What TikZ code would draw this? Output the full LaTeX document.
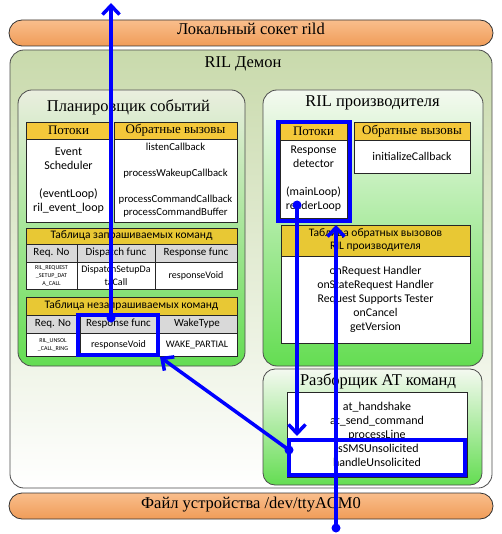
\documentclass[tikz,border=0pt]{standalone}
\usepackage{fontspec}
\setmainfont{Liberation Serif}
\newfontfamily\calfont{Carlito}
\usepackage{tikz}
\usetikzlibrary{arrows.meta}

\definecolor{barTop}{HTML}{F9BE8C}
\definecolor{barBot}{HTML}{F09C58}
\definecolor{demTop}{HTML}{C9DAAC}
\definecolor{panTop}{HTML}{EAEEDF}
\definecolor{panTopB}{HTML}{F4F9F0}
\definecolor{panBot}{HTML}{64DD52}
\definecolor{gold}{HTML}{F4C83A}
\definecolor{goldB}{HTML}{E8C834}
\definecolor{colgray}{HTML}{D9D9D9}

\tikzset{
  bar/.style={draw=black!80, line width=0.8pt, rounded corners=13pt, top color=barTop, bottom color=barBot,
    minimum width=484pt, minimum height=26pt, inner sep=0pt, text height=11pt, text depth=7pt,
    font=\fontsize{16.5}{18}\selectfont},
  panel/.style={draw=black!70, line width=0.8pt, rounded corners=14pt, inner sep=0pt},
  title/.style={anchor=base, inner sep=0pt, font=\fontsize{16.5}{18}\selectfont},
  cell/.style={draw=black!85, line width=0.7pt, fill=white, inner sep=0pt, align=center},
  hdr/.style={cell, fill=gold, font=\fontsize{13}{15}\selectfont},
  tbl/.style={cell, fill=goldB, font=\calfont\fontsize{11.5}{13}\selectfont},
  colh/.style={cell, fill=colgray, font=\calfont\fontsize{11}{13}\selectfont},
  tiny/.style={font=\calfont\fontsize{6}{8}\selectfont},
  sel/.style={draw=blue, line width=4pt, inner sep=0pt},
  dot/.style={circle, fill=blue, inner sep=0pt, minimum size=9pt},
  link/.style={draw=blue, line width=3.5pt, -{Straight Barb[length=9pt, width=17pt]}}
}

\begin{document}
\begin{tikzpicture}[x=1pt, y=-1pt]
  \useasboundingbox (0, 0) rectangle (501, 534);
  \node (sock) at (251, 33) [bar] {Локальный сокет rild};
  \node (dem) at (251, 269) [panel, top color=demTop, bottom color=white, minimum width=482, minimum height=438] {};
  \node (demT) at (243, 68) [title] {RIL Демон};
  \node (dev) at (251, 506) [bar] {Файл устройства /dev/ttyACM0};

  \node (sched) at (131.5, 228) [panel, top color=panTop, bottom color=panBot, minimum width=227, minimum height=276] {};
  \node (schedT) at (128.5, 112) [title] {Планировщик событий};
  \node (thrH) at (68.5, 130.5) [hdr, minimum width=85, minimum height=17] {Потоки};
  \node (thrB) at (68.5, 180.5) [cell, minimum width=85, minimum height=83, font=\calfont\fontsize{12}{14}\selectfont] {Event\\Scheduler\\[14pt](eventLoop)\\ril\_event\_loop};
  \node (cbH) at (175.5, 130.5) [hdr, minimum width=123, minimum height=17] {Обратные вызовы};
  \node (cbB) at (175.5, 180.5) [cell, minimum width=123, minimum height=83, font=\calfont\fontsize{10.7}{13}\selectfont] {listenCallback\\[13pt]processWakeupCallback\\[13pt]processCommandCallback\\processCommandBuffer};

  \node (rq) at (131.5, 236) [tbl, minimum width=211, minimum height=16] {Таблица запрашиваемых команд};
  \node (rqA) at (51.5, 253) [colh, minimum width=51, minimum height=18] {Req. No};
  \node (rqB) at (116, 253) [colh, minimum width=78, minimum height=18] {Dispatch func};
  \node (rqC) at (196, 253) [colh, minimum width=82, minimum height=18] {Response func};
  \node (rqA1) at (51.5, 275.5) [cell, tiny, minimum width=51, minimum height=27] {RIL\_REQUEST\\\_SETUP\_DAT\\A\_CALL};
  \node (rqB1) at (116, 275.5) [cell, minimum width=78, minimum height=27, font=\calfont\fontsize{10}{13}\selectfont] {DispatchSetupDa\\taCall};
  \node (rqC1) at (196, 275.5) [cell, minimum width=82, minimum height=27, font=\calfont\fontsize{10}{13}\selectfont] {responseVoid};

  \node (un) at (131.5, 306) [tbl, minimum width=211, minimum height=18] {Таблица незапрашиваемых команд};
  \node (unA) at (53, 324) [colh, minimum width=54, minimum height=18] {Req. No};
  \node (unB) at (118.5, 324) [colh, minimum width=77, minimum height=18] {Response func};
  \node (unC) at (197, 324) [colh, minimum width=80, minimum height=18] {WakeType};
  \node (unA1) at (53, 344.5) [cell, tiny, minimum width=54, minimum height=23] {RIL\_UNSOL\\\_CALL\_RING};
  \node (unB1) at (118.5, 344.5) [cell, minimum width=77, minimum height=23, font=\calfont\fontsize{10}{13}\selectfont] {responseVoid};
  \node (unC1) at (197, 344.5) [cell, minimum width=80, minimum height=23, font=\calfont\fontsize{10}{13}\selectfont] {WAKE\_PARTIAL};

  \node (prod) at (373, 228) [panel, top color=panTopB, bottom color=panBot, minimum width=220, minimum height=276] {};
  \node (prodT) at (372.5, 107) [title] {RIL производителя};
  \node (thrH2) at (313.5, 131) [hdr, minimum width=67, minimum height=18] {Потоки};
  \node (thrB2) at (313.5, 179) [cell, minimum width=67, minimum height=78, font=\calfont\fontsize{11.8}{14}\selectfont] {Response\\detector\\[14pt](mainLoop)\\readerLoop};
  \node (cbH2) at (412, 131) [hdr, minimum width=116, minimum height=18] {Обратные вызовы};
  \node (cbB2) at (412, 156.5) [cell, minimum width=116, minimum height=33, font=\calfont\fontsize{11.8}{14}\selectfont] {initializeCallback};
  \node (vt) at (375.5, 240.5) [tbl, minimum width=189, minimum height=31] {Таблица обратных вызовов\\RIL производителя};
  \node (vtB) at (375.5, 299.5) [cell, minimum width=189, minimum height=87, font=\calfont\fontsize{11.8}{14}\selectfont] {onRequest Handler\\onStateRequest Handler\\Request Supports Tester\\onCancel\\getVersion};

  \node (pars) at (372.5, 427) [panel, rounded corners=12pt, top color=panTopB, bottom color=panBot, minimum width=219, minimum height=116] {};
  \node (parsT) at (378, 385) [title] {Разборщик AT команд};
  \node (atB) at (377, 434.5) [cell, minimum width=180, minimum height=85, font=\calfont\fontsize{12}{14}\selectfont] {at\_handshake\\at\_send\_command\\processLine\\isSMSUnsolicited\\handleUnsolicited};

  \node (sel1) at (118, 335) [sel, minimum width=80, minimum height=40] {};
  \node (sel2) at (314, 171.5) [sel, minimum width=72, minimum height=99] {};
  \node (sel3) at (377, 457.5) [sel, minimum width=176, minimum height=35] {};

  \node (d1) at (111, 318) [dot] {};
  \node (d2) at (297, 205) [dot] {};
  \node (d3) at (336, 528) [dot] {};
  \node (d4) at (289, 450) [dot] {};
  \coordinate (tip) at (111, 3);

  \draw [link] (d1.center) -- (tip);
  \draw [link, shorten >=2pt] (d2.center) -- (d2 |- sel3.north);
  \draw [link, shorten >=2pt] (d3.center) -- (d3 |- sel2.south);
  \draw [link] (d4.center) -- (sel1.south east);
\end{tikzpicture}
\end{document}
